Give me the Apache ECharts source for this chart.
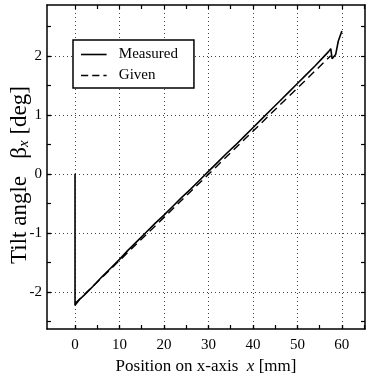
<!DOCTYPE html>
<html>
<head>
<meta charset="utf-8">
<script src="https://cdn.jsdelivr.net/npm/echarts@6.0.0/dist/echarts.min.js"></script>
<style>
html,body{margin:0;padding:0;background:#fff;}
#chart{width:368px;height:384px;}
</style>
</head>
<body>
<div id="chart"></div>
<script>
var measuredX = [0, 0, 1, 2, 4, 6, 8, 10, 12, 14, 16, 18, 20, 22, 24, 26, 28, 30, 32, 34, 36, 38, 40, 42, 44, 46, 48, 50, 52, 54, 56, 57, 57.5, 57.8, 58.6, 59.2, 60];
var measuredY = [0, -2.23, -2.13, -2.06, -1.91, -1.75, -1.60, -1.45, -1.29, -1.14, -0.99, -0.84, -0.70, -0.55, -0.40, -0.26, -0.11, 0.04, 0.19, 0.34, 0.48, 0.63, 0.78, 0.93, 1.08, 1.23, 1.38, 1.53, 1.68, 1.83, 1.99, 2.07, 2.12, 1.95, 2.02, 2.25, 2.42];
var givenX = [0, 57.5];
var givenY = [-2.2, 2.0];

var seriesNames = ['Measured', 'Given'];
var xLabelValues = [0, 10, 20, 30, 40, 50, 60];
var xMinorTicks = [0, 5, 10, 15, 20, 25, 30, 35, 40, 45, 50, 55, 60, 65];
var yLabelValues = [-2, -1, 0, 1, 2];
var yMinorTicks = [-2.5, -2, -1.5, -1, -0.5, 0, 0.5, 1, 1.5, 2, 2.5];

var X_MIN = -6.3, X_MAX = 65.2, Y_MIN = -2.63, Y_MAX = 2.86;

function pairs(xs, ys) { return xs.map(function (x, i) { return [x, ys[i]]; }); }

var FONT = 'Liberation Serif';
var axisLineStyle = { color: '#000', width: 1.5 };
var dotted = { color: '#444', width: 1, type: [1, 3] };
var tickStyle = { color: '#000', width: 1.2 };

function xAxisDef(opts) {
  return Object.assign({
    type: 'value', min: X_MIN, max: X_MAX,
    axisLine: { show: false, onZero: false, lineStyle: axisLineStyle },
    axisTick: { show: false },
    axisLabel: { show: false },
    splitLine: { show: false }
  }, opts);
}
function yAxisDef(opts) {
  return Object.assign({
    type: 'value', min: Y_MIN, max: Y_MAX,
    axisLine: { show: false, onZero: false, lineStyle: axisLineStyle },
    axisTick: { show: false },
    axisLabel: { show: false },
    splitLine: { show: false }
  }, opts);
}

var solidIcon = 'path://M0,0H32V2H0Z';
var dashedIcon = 'path://M0,0H9V2H0Z M14,0H23V2H14Z M28,0H32V2H28Z';

var chart = echarts.init(document.getElementById('chart'), null, { renderer: 'canvas' });
chart.setOption({
  animation: false,
  backgroundColor: '#fff',
  grid: { left: 47, right: 3, top: 5, bottom: 55, containLabel: false, outerBoundsMode: 'none' },
  legend: {
    data: [
      { name: seriesNames[0], icon: solidIcon },
      { name: seriesNames[1], icon: dashedIcon }
    ],
    orient: 'vertical',
    left: 73, top: 40,
    itemWidth: 32, itemHeight: 1.6, itemGap: 6,
    padding: [7, 16, 5, 8],
    borderColor: '#000', borderWidth: 1.5,
    backgroundColor: '#fff',
    textStyle: { fontFamily: FONT, fontSize: 15, color: '#000', padding: [0, 0, 0, 4] }
  },
  xAxis: [
    xAxisDef({
      position: 'bottom',
      axisLine: { show: true, onZero: false, lineStyle: axisLineStyle },
      axisTick: { show: true, inside: true, length: 4, lineStyle: tickStyle, customValues: xLabelValues },
      axisLabel: { show: true, customValues: xLabelValues, margin: 9, fontFamily: FONT, fontSize: 15, color: '#000' },
      splitLine: { show: true, lineStyle: dotted },
      name: '{n|Position on x-axis  }{i|x}{n| [mm]}',
      nameLocation: 'middle', nameGap: 29, nameMoveOverlap: false,
      nameTextStyle: {
        rich: {
          n: { fontFamily: FONT, fontSize: 17, color: '#000' },
          i: { fontFamily: FONT, fontSize: 17, fontStyle: 'italic', color: '#000' }
        }
      }
    }),
    xAxisDef({
      position: 'bottom',
      axisTick: { show: true, inside: true, length: 4, lineStyle: tickStyle, customValues: xMinorTicks }
    }),
    xAxisDef({
      position: 'top',
      axisLine: { show: true, onZero: false, lineStyle: axisLineStyle },
      axisTick: { show: true, inside: true, length: 4, lineStyle: tickStyle, customValues: xMinorTicks }
    })
  ],
  yAxis: [
    yAxisDef({
      position: 'left',
      axisLine: { show: true, onZero: false, lineStyle: axisLineStyle },
      axisTick: { show: true, inside: true, length: 4, lineStyle: tickStyle, customValues: yLabelValues },
      axisLabel: { show: true, customValues: yLabelValues, margin: 5, fontFamily: FONT, fontSize: 15, color: '#000' },
      splitLine: { show: true, lineStyle: dotted },
      name: '{n|Tilt angle   β}{s|x}{n| [deg]}',
      nameLocation: 'middle', nameGap: 15, nameRotate: 90, nameMoveOverlap: false,
      nameTextStyle: {
        padding: [0, 16, 0, 0],
        rich: {
          n: { fontFamily: FONT, fontSize: 23, color: '#000' },
          s: { fontFamily: FONT, fontSize: 15, fontStyle: 'italic', color: '#000', verticalAlign: 'bottom', padding: [9, 0, 0, 0] }
        }
      }
    }),
    yAxisDef({
      position: 'left',
      axisTick: { show: true, inside: true, length: 4, lineStyle: tickStyle, customValues: yMinorTicks }
    }),
    yAxisDef({
      position: 'right',
      axisLine: { show: true, onZero: false, lineStyle: axisLineStyle },
      axisTick: { show: true, inside: true, length: 4, lineStyle: tickStyle, customValues: yMinorTicks }
    })
  ],
  series: [
    {
      name: seriesNames[0], type: 'line', xAxisIndex: 0, yAxisIndex: 0,
      data: pairs(measuredX, measuredY),
      symbol: 'none', color: '#000',
      lineStyle: { color: '#000', width: 1.6, type: 'solid' }
    },
    {
      name: seriesNames[1], type: 'line', xAxisIndex: 0, yAxisIndex: 0,
      data: pairs(givenX, givenY),
      symbol: 'none', color: '#000',
      lineStyle: { color: '#000', width: 1.4, type: [8, 5] }
    }
  ]
});
</script>
</body>
</html>
